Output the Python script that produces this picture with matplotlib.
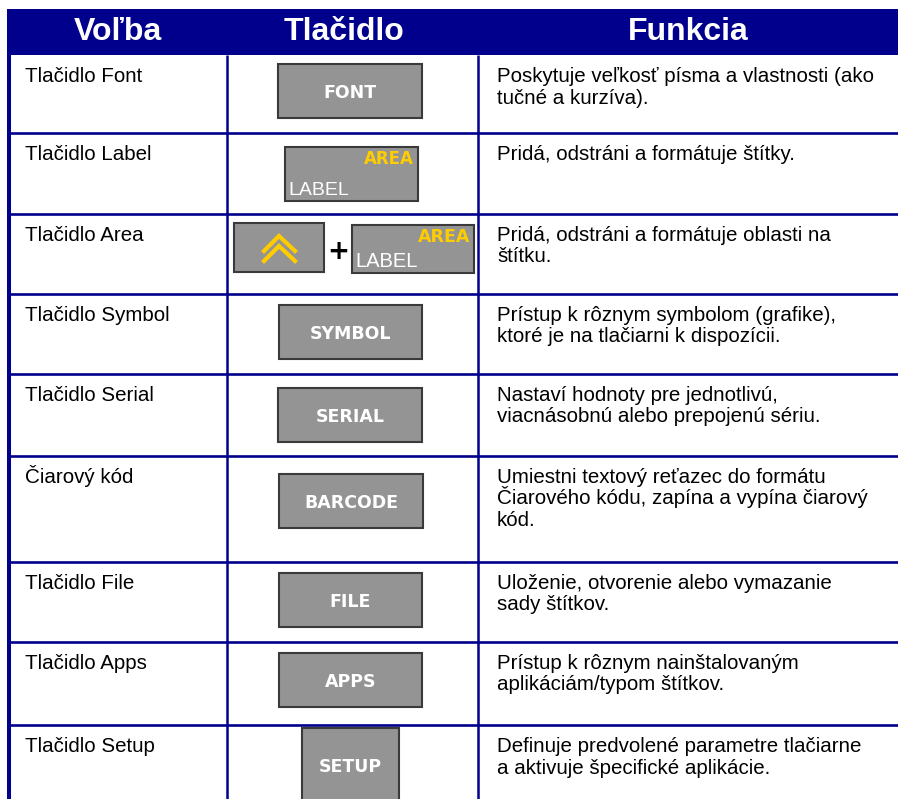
import matplotlib
matplotlib.use("Agg")
import matplotlib.pyplot as plt
from matplotlib.patches import Rectangle

NAVY = "#00008c"
GRAY = "#949494"
EDGE = "#3a3a3a"
YELLOW = "#ffcc00"

headers = ["Voľba", "Tlačidlo", "Funkcia"]
options = ["Tlačidlo Font", "Tlačidlo Label", "Tlačidlo Area", "Tlačidlo Symbol",
           "Tlačidlo Serial", "Čiarový kód", "Tlačidlo File", "Tlačidlo Apps",
           "Tlačidlo Setup"]
buttons = ["FONT", "LABEL", "AREA", "SYMBOL", "SERIAL", "BARCODE", "FILE", "APPS", "SETUP"]
functions = [
    ["Poskytuje veľkosť písma a vlastnosti (ako", "tučné a kurzíva)."],
    ["Pridá, odstráni a formátuje štítky."],
    ["Pridá, odstráni a formátuje oblasti na", "štítku."],
    ["Prístup k rôznym symbolom (grafike),", "ktoré je na tlačiarni k dispozícii."],
    ["Nastaví hodnoty pre jednotlivú,", "viacnásobnú alebo prepojenú sériu."],
    ["Umiestni textový reťazec do formátu", "Čiarového kódu, zapína a vypína čiarový", "kód."],
    ["Uloženie, otvorenie alebo vymazanie", "sady štítkov."],
    ["Prístup k rôznym nainštalovaným", "aplikáciám/typom štítkov."],
    ["Definuje predvolené parametre tlačiarne", "a aktivuje špecifické aplikácie."],
]

# layout in pixels (y grows downwards)
row_edges = [55, 133, 214, 294, 374, 456, 562, 642, 725, 799]
col_edges = [9, 227, 478, 898]
header_x = [118, 344, 688]
# plain button boxes: x0, y0, x1, y1
boxes = {
    "FONT": (278, 64, 422, 118),
    "SYMBOL": (279, 305, 422, 359),
    "SERIAL": (278, 388, 422, 442),
    "BARCODE": (279, 474, 423, 528),
    "FILE": (279, 573, 422, 627),
    "APPS": (279, 653, 422, 707),
    "SETUP": (302, 728, 399, 808),
}

fig = plt.figure(figsize=(8.98, 7.99), dpi=100)
ax = fig.add_axes([0, 0, 1, 1])
ax.set_xlim(0, 898)
ax.set_ylim(799, 0)
ax.axis("off")


def button(x0, y0, x1, y1):
    ax.add_patch(Rectangle((x0, y0), x1 - x0, y1 - y0, facecolor=GRAY,
                           edgecolor=EDGE, linewidth=1.5))


def label_button(x0, y0, x1, y1, size):
    button(x0, y0, x1, y1)
    ax.text(x1 - 4, y0 + 3, "AREA", color=YELLOW, fontsize=size - 2,
            fontweight="bold", family="DejaVu Sans", ha="right", va="top")
    ax.text(x0 + 3, y1 - 6, "LABEL", color="white", fontsize=size,
            family="Liberation Sans", ha="left", va="baseline")


# header band
ax.add_patch(Rectangle((7, 9), 891, 46, facecolor=NAVY, edgecolor="none"))
for x, h in zip(header_x, headers):
    ax.text(x, 32, h, color="white", fontsize=23, fontweight="bold",
            family="Liberation Sans", ha="center", va="center")

# grid
ax.vlines(9, 55, 799, color=NAVY, linewidth=2.9)
ax.vlines(col_edges[1:3], 55, 799, color=NAVY, linewidth=1.8)
ax.hlines(row_edges[1:-1], 9, 898, color=NAVY, linewidth=1.9)

for i, (opt, key, lines) in enumerate(zip(options, buttons, functions)):
    top = row_edges[i]
    ax.text(25, top + 27, opt, fontsize=14.8, family="Liberation Sans",
            color="black", ha="left", va="baseline")
    for j, line in enumerate(lines):
        ax.text(497, top + 27 + 21.5 * j, line, fontsize=14.8,
                family="Liberation Sans", color="black", ha="left", va="baseline")

    if key in boxes:
        x0, y0, x1, y1 = boxes[key]
        button(x0, y0, x1, y1)
        yc = min((y0 + y1) / 2, 765)
        ax.text((x0 + x1) / 2, yc + 7, key, color="white", fontsize=12.5,
                fontweight="bold", family="DejaVu Sans", ha="center", va="baseline")
    elif key == "LABEL":
        label_button(285, 147, 418, 201, 14)
    elif key == "AREA":
        button(234, 223, 324, 272)
        ax.plot([264, 279, 295], [251, 236, 251], color=YELLOW, linewidth=3,
                solid_joinstyle="miter")
        ax.plot([264, 279, 295], [261, 246, 261], color=YELLOW, linewidth=3,
                solid_joinstyle="miter")
        ax.text(338, 252, "+", color="black", fontsize=19, fontweight="bold",
                family="DejaVu Sans", ha="center", va="center")
        label_button(352, 225, 474, 273, 14.5)

fig.savefig("out.png", dpi=100)
